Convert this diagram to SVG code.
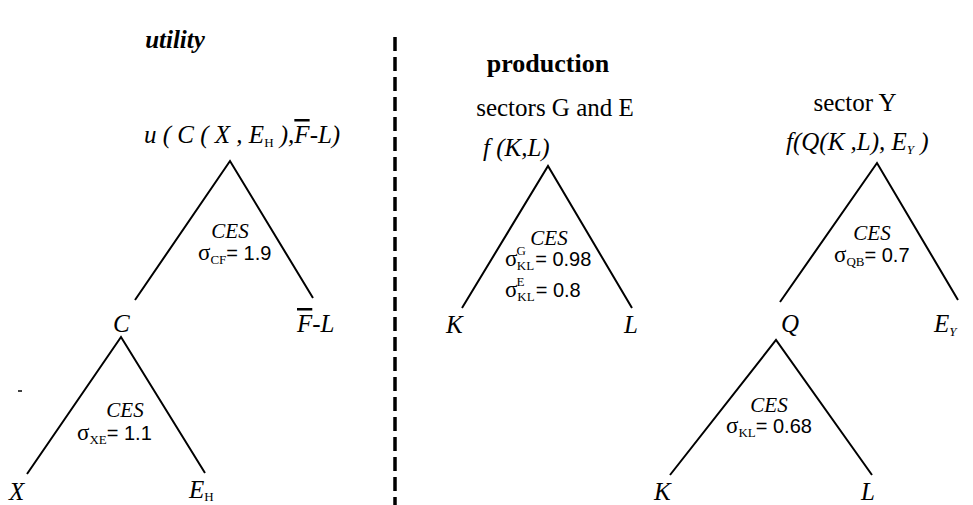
<svg xmlns="http://www.w3.org/2000/svg" width="973" height="505" viewBox="0 0 973 505">
<style>
.t{font-family:"Liberation Serif","Times New Roman",serif;fill:#000}
.i{font-style:italic}
.b{font-weight:bold}
.h{font-size:25px}
.n{font-size:25px;font-style:italic}
.ces{font-size:21px;font-style:italic}
.sg{font-size:23px}
.sub{font-size:13px;font-style:normal}
.num{font-family:"Liberation Sans",Arial,sans-serif;font-size:20px}
.ov{text-decoration:overline}
.edge{stroke:#000;stroke-width:2;fill:none}
</style>
<rect width="973" height="505" fill="#fff"/>
<g id="divider">
<line x1="395" y1="37" x2="395" y2="505" stroke="#000" stroke-width="3.5" stroke-dasharray="14,6"/>
</g>
<g id="headings">
<text class="t i b h" x="175" y="48" text-anchor="middle">utility</text>
<text class="t b" font-size="26" x="548" y="72" text-anchor="middle">production</text>
<text class="t h" x="555" y="116" text-anchor="middle">sectors G and E</text>
<text class="t h" x="855" y="111" text-anchor="middle">sector  Y</text>
</g>
<g id="connectors">
<polyline class="edge" points="135,300 230,161 313,298"/>
<polyline class="edge" points="27,474 121,337 205,473"/>
<polyline class="edge" points="462,308 548,166 632,308"/>
<polyline class="edge" points="780,302 877,163 958,300"/>
<polyline class="edge" points="670,475 776,340 872,475"/>
</g>
<g id="node-u">
<text class="t n" x="144" y="143">u ( C ( X , E<tspan class="sub" dy="4">H</tspan><tspan dy="-4"> ),</tspan><tspan class="ov">F</tspan>-L)</text>
</g>
<g id="label-cf">
<text class="t ces" x="230" y="238" text-anchor="middle">CES</text>
<text class="t" x="198" y="260"><tspan class="sg">σ</tspan><tspan class="sub" dy="4">CF</tspan><tspan class="num" dy="-4">= 1.9</tspan></text>
</g>
<g id="node-C"><text class="t n" x="113" y="332">C</text></g>
<g id="node-FL"><text class="t n" x="297" y="332"><tspan class="ov">F</tspan>-L</text></g>
<g id="label-xe">
<text class="t ces" x="125" y="417" text-anchor="middle">CES</text>
<text class="t" x="77" y="440"><tspan class="sg">σ</tspan><tspan class="sub" dy="4">XE</tspan><tspan class="num" dy="-4">= 1.1</tspan></text>
</g>
<g id="stray"><line x1="18" y1="391" x2="22" y2="391" stroke="#000" stroke-width="1.5"/></g>
<g id="node-X"><text class="t n" x="9" y="500">X</text></g>
<g id="node-EH"><text class="t n" x="189" y="498">E<tspan class="sub" dy="3">H</tspan></text></g>
<g id="node-fKL"><text class="t n" x="483" y="156">f (K,L)</text></g>
<g id="label-kl-ge">
<text class="t ces" x="549" y="245" text-anchor="middle">CES</text>
<text class="t" x="505" y="266"><tspan class="sg">σ</tspan><tspan class="sub" font-size="11" dx="-1" dy="-11">G</tspan><tspan class="sub" dx="-9" dy="15">KL</tspan><tspan class="num" dx="1" dy="-4">= 0.98</tspan></text>
<text class="t" x="505" y="297"><tspan class="sg">σ</tspan><tspan class="sub" font-size="10" dx="-1" dy="-11">E</tspan><tspan class="sub" dx="-7" dy="15">KL</tspan><tspan class="num" dx="1" dy="-4">= 0.8</tspan></text>
</g>
<g id="node-K1"><text class="t n" x="446" y="333">K</text></g>
<g id="node-L1"><text class="t n" x="624" y="333">L</text></g>
<g id="node-fQ"><text class="t n" x="786" y="150">f(Q(K ,L), E<tspan font-size="13" dy="4">Y</tspan><tspan dy="-4"> )</tspan></text></g>
<g id="label-qb">
<text class="t ces" x="872" y="240" text-anchor="middle">CES</text>
<text class="t" x="834" y="262"><tspan class="sg">σ</tspan><tspan class="sub" dy="4">QB</tspan><tspan class="num" dy="-4">= 0.7</tspan></text>
</g>
<g id="node-Q"><text class="t n" x="781" y="332">Q</text></g>
<g id="node-EY"><text class="t n" x="934" y="332">E<tspan font-size="13" dy="4">Y</tspan></text></g>
<g id="label-kl">
<text class="t ces" x="769" y="412" text-anchor="middle">CES</text>
<text class="t" x="726" y="433"><tspan class="sg">σ</tspan><tspan class="sub" dy="4">KL</tspan><tspan class="num" dy="-4">= 0.68</tspan></text>
</g>
<g id="node-K2"><text class="t n" x="654" y="500">K</text></g>
<g id="node-L2"><text class="t n" x="861" y="500">L</text></g>
</svg>
